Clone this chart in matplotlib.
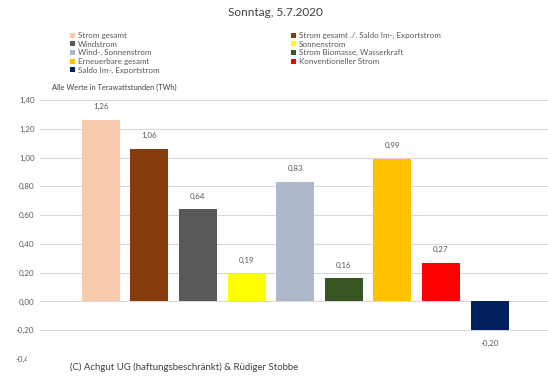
"""Tageswerte Strom, Sonntag 5.7.2020."""

import matplotlib
matplotlib.use('Agg')
import matplotlib.pyplot as plt
from matplotlib.patches import Patch, Rectangle

plt.rcParams['font.family'] = ['Lato', 'DejaVu Sans']

categories = ['Strom gesamt', 'Strom gesamt ./. Saldo Im-, Exportstrom',
              'Windstrom', 'Sonnenstrom', 'Wind-, Sonnenstrom',
              'Strom Biomasse, Wasserkraft', 'Erneuerbare gesamt',
              'Konventioneller Strom', 'Saldo Im-, Exportstrom']
values = [1.26, 1.06, 0.64, 0.19, 0.83, 0.16, 0.99, 0.27, -0.20]
colors = ['#F8CBAD', '#843C0C', '#595959', '#FFFF00', '#ADB9CA',
          '#375623', '#FFC000', '#FF0000', '#002060']
yticks = [-0.4, -0.2, 0.0, 0.2, 0.4, 0.6, 0.8, 1.0, 1.2, 1.4]

TEXT_COLOR = '#595959'
GRID_COLOR = '#D9D9D9'


def main():
    fig = plt.figure(figsize=(5.48, 3.83), dpi=100, facecolor='white')
    ax = fig.add_axes([40 / 548, 1 - 359 / 383, 508 / 548, 259 / 383])

    x = list(range(len(values)))
    ax.bar(x, values, width=0.78, color=colors, zorder=3)
    for xi, v in zip(x, values):
        off = 7 if v >= 0 else -7
        ax.annotate(f"{v:.2f}".replace('.', ','), (xi, v),
                    xytext=(0, off), textcoords='offset points',
                    ha='center', va='bottom' if v >= 0 else 'top',
                    fontsize=5.7, color=TEXT_COLOR)

    ax.set_xlim(-1.25, 9.2)
    ax.set_ylim(-0.4, 1.4)
    ax.set_yticks(yticks)
    ax.set_yticklabels([f"{t:.2f}".replace('.', ',') for t in yticks])
    ax.set_xticks([])
    ax.tick_params(axis='y', length=0, pad=4, labelsize=5.7,
                   labelcolor=TEXT_COLOR)
    for spine in ax.spines.values():
        spine.set_visible(False)
    ax.grid(True, axis='y', color=GRID_COLOR, linewidth=0.75, zorder=0)

    fig.text(0.502, 1 - 13 / 383, 'Sonntag, 5.7.2020', ha='center',
             va='center', fontsize=8.5, color='#404040')
    fig.text(52 / 548, 1 - 87 / 383, 'Alle Werte in Terawattstunden (TWh)',
             ha='left', va='center', fontsize=5.4, color='#404040')

    handles = [Patch(facecolor=c, edgecolor='none') for c in colors]
    order = [0, 2, 4, 6, 8, 1, 3, 5, 7]
    fig.legend([handles[i] for i in order], [categories[i] for i in order],
               ncol=2, loc='upper left', bbox_to_anchor=(66 / 548, 1 - 28 / 383),
               frameon=False, fontsize=5.8, labelcolor=TEXT_COLOR,
               handlelength=0.6, handleheight=0.6, handletextpad=0.4,
               labelspacing=0.2, columnspacing=16.3, borderpad=0)

    # copyright box covering the lower left of the plot
    fig.patches.append(Rectangle((27 / 548, 0), 278 / 548, 31 / 383,
                                 transform=fig.transFigure, facecolor='white',
                                 edgecolor='none', zorder=10))
    fig.text(70 / 548, 1 - 367 / 383,
             '(C) Achgut UG (haftungsbeschränkt) & Rüdiger Stobbe',
             ha='left', va='center', fontsize=6.9, color='#404040', zorder=11)

    fig.savefig('out.png', dpi=100, facecolor='white')
    plt.close(fig)


if __name__ == "__main__":
    main()
